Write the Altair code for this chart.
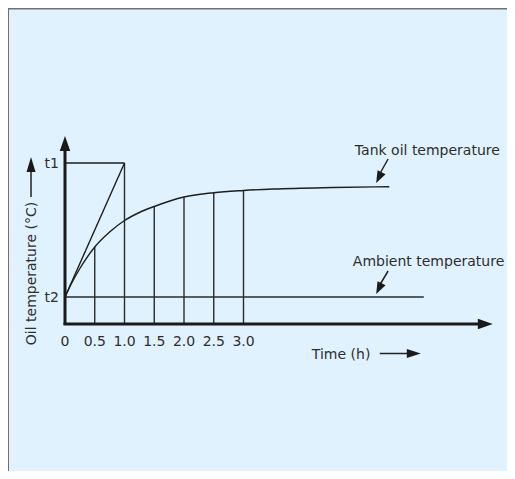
import altair as alt
import pandas as pd

# ---- data (time in h, temperature in arbitrary units above the time axis)
tick_times = [0, 0.5, 1.0, 1.5, 2.0, 2.5, 3.0]
tick_labels = ["0", "0.5", "1.0", "1.5", "2.0", "2.5", "3.0"]

t2_level = 27      # ambient temperature level
t1_level = 161     # upper temperature level

curve_time = [0, 0.1, 0.25, 0.5, 0.75, 1.0, 1.25, 1.5, 2.0, 2.5, 3.0, 3.5, 4.5, 5.45]
curve_temp = [27, 39.5, 55.5, 77, 92, 103.5, 111.5, 117.5, 127, 131.3, 133.5, 135, 136.5, 137.3]

guide_time = [0.5, 1.0, 1.5, 2.0, 2.5, 3.0]
guide_top = [77, 161, 117.5, 127, 131.3, 133.5]

ambient_end = 6.03
x_axis_end = 7.19
y_axis_end = 188

# annotation texts
label_text = ["Tank oil temperature", "Ambient temperature", "Time (h)"]
label_x = [6.09, 6.11, 4.64]
label_y = [169, 58, -35]

ylabel_text = "Oil temperature (°C)"

FONT = "DejaVu Sans"
TXT = "#2e2e2e"
INK = "#1e1e1e"
W, H = 499, 463

xs = alt.Scale(domain=[0, 7.2], range=[57, 57 + 7.2 * 59.5], nice=False, zero=False)
ys = alt.Scale(domain=[0, 188], range=[316, 128], nice=False, zero=False)


def X(f):
    return alt.X(f, type="quantitative", scale=xs, axis=None)


def Y(f):
    return alt.Y(f, type="quantitative", scale=ys, axis=None)


# frame: top and left edges of the panel
frame_top = alt.Chart(pd.DataFrame({"k": [0]})).mark_rule(color="#707070", strokeWidth=2).encode(
    x=alt.value(0), x2=alt.value(W), y=alt.value(0.5))
frame_left = alt.Chart(pd.DataFrame({"k": [0]})).mark_rule(color="#707070", strokeWidth=2).encode(
    x=alt.value(0), y=alt.value(0), y2=alt.value(H))

# guides (vertical lines up to the curve)
guides = pd.DataFrame({"t": guide_time, "y0": [0] * len(guide_time), "y1": guide_top})
g_layer = alt.Chart(guides).mark_rule(color="#2a2a2a", strokeWidth=1.4).encode(
    x=X("t"), y=Y("y0"), y2="y1")

# t1 horizontal line
t1_df = pd.DataFrame({"x0": [0], "x1": [1.0], "y": [t1_level]})
t1_layer = alt.Chart(t1_df).mark_rule(color=INK, strokeWidth=1.4).encode(
    x=X("x0"), x2="x1", y=Y("y"))

# ambient line
amb_df = pd.DataFrame({"x0": [0], "x1": [ambient_end], "y": [t2_level]})
amb_layer = alt.Chart(amb_df).mark_rule(color="#2a2a2a", strokeWidth=1.3).encode(
    x=X("x0"), x2="x1", y=Y("y"))

# tangent line
tan_df = pd.DataFrame({"t": [0, 1.0], "v": [t2_level, t1_level]})
tan_layer = alt.Chart(tan_df).mark_line(color=INK, strokeWidth=1.4).encode(x=X("t"), y=Y("v"))

# curve
curve_df = pd.DataFrame({"t": curve_time, "v": curve_temp})
curve_layer = alt.Chart(curve_df).mark_line(color=INK, strokeWidth=1.4, interpolate="monotone").encode(
    x=X("t"), y=Y("v"))

# main axes
axes_df = pd.DataFrame({
    "x0": [-0.025, 0], "x1": [x_axis_end - 0.2, 0],
    "y0": [0, -0.8], "y1": [0, y_axis_end - 11]})
axes_layer = alt.Chart(axes_df).mark_rule(color="#1a1a1a", strokeWidth=3).encode(
    x=X("x0"), x2="x1", y=Y("y0"), y2="y1")

# pointer / label arrow shafts
shaft_df = pd.DataFrame({
    "x0": [5.43, 5.43, -0.571, 5.29],
    "x1": [5.26, 5.26, -0.571, 5.85],
    "y0": [165, 53, 127, -29.5],
    "y1": [147, 36, 158, -29.5]})
shaft_layer = alt.Chart(shaft_df).mark_rule(color="#222222", strokeWidth=1.5).encode(
    x=X("x0"), x2="x1", y=Y("y0"), y2="y1")

# arrow heads (tip at the data point)
heads_df = pd.DataFrame({
    "x": [x_axis_end, 0, 5.23, 5.23, -0.571, 5.98],
    "y": [0, y_axis_end, 141, 30, 167, -29.5],
    "angle": [90, 0, 206.6, 206.6, 0, 90],
    "shape": ["M0,0 L-0.7,2 L0.7,2 Z", "M0,0 L-0.7,2 L0.7,2 Z",
              "M0,0 L-0.75,2 L0.75,2 Z", "M0,0 L-0.75,2 L0.75,2 Z",
              "M0,0 L-0.6,2 L0.6,2 Z", "M0,0 L-0.64,2 L0.64,2 Z"],
    "size": [225, 225, 144, 144, 225, 196]})
heads_layer = alt.Chart(heads_df).mark_point(filled=True, opacity=1, color="#1a1a1a", strokeWidth=0).encode(
    x=X("x"), y=Y("y"),
    shape=alt.Shape("shape:N", scale=None),
    size=alt.Size("size:Q", scale=None),
    angle=alt.Angle("angle:Q", scale=None))

# tick labels
ticks_df = pd.DataFrame({"t": tick_times, "lab": tick_labels, "y": [0] * len(tick_times)})
ticks_layer = alt.Chart(ticks_df).mark_text(font=FONT, fontSize=14, color=TXT, align="center",
                                            baseline="alphabetic", dy=21.5).encode(
    x=X("t"), y=Y("y"), text="lab:N")

# t1 / t2 labels
lev_df = pd.DataFrame({"t": [0, 0], "v": [t1_level, t2_level], "lab": ["t1", "t2"]})
lev_layer = alt.Chart(lev_df).mark_text(font=FONT, fontSize=14, color=TXT, align="right",
                                        baseline="alphabetic", dx=-6, dy=5).encode(
    x=X("t"), y=Y("v"), text="lab:N")

# annotation labels
lab_df = pd.DataFrame({"x": label_x, "y": label_y, "lab": label_text})
lab_layer = alt.Chart(lab_df).mark_text(font=FONT, fontSize=14, color=TXT, align="center",
                                        baseline="alphabetic").encode(
    x=X("x"), y=Y("y"), text="lab:N")

# y axis label (rotated)
yl_df = pd.DataFrame({"x": [-0.479], "y": [50.5], "lab": [ylabel_text]})
yl_layer = alt.Chart(yl_df).mark_text(font=FONT, fontSize=14, color=TXT, align="center",
                                      baseline="alphabetic", angle=270).encode(
    x=X("x"), y=Y("y"), text="lab:N")

chart = alt.layer(
    frame_top, frame_left,
    g_layer, t1_layer, amb_layer, tan_layer, curve_layer, axes_layer,
    shaft_layer, heads_layer, ticks_layer, lev_layer, lab_layer, yl_layer
).properties(
    width=W, height=H, autosize="none", padding=0, background="#e0f2fd"
).configure_view(
    fill="#e0f2fd", stroke=None, strokeWidth=0
)

chart.save("out.html", embed_options={"renderer": "svg", "actions": False})
